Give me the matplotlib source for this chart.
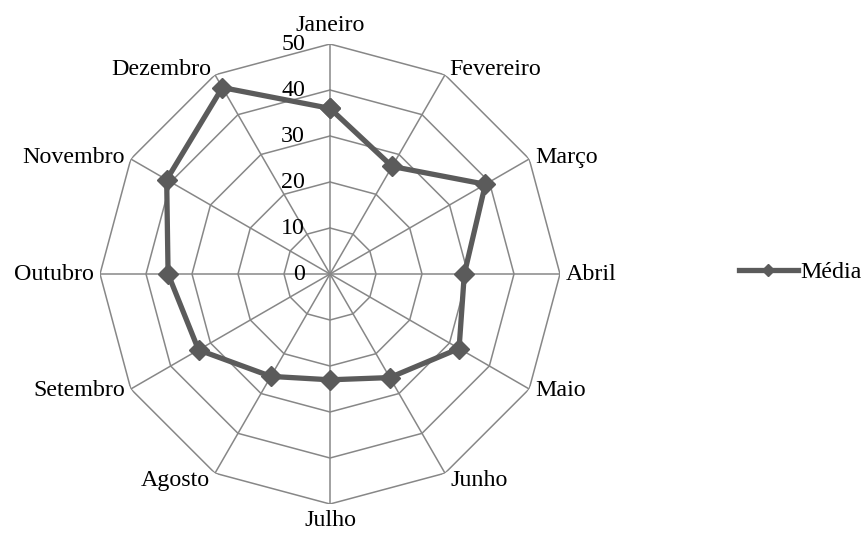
import numpy as np
import matplotlib
matplotlib.use('Agg')
import matplotlib.pyplot as plt

plt.rcParams['font.family'] = ['Liberation Serif', 'DejaVu Serif']

months = ['Janeiro', 'Fevereiro', 'Março', 'Abril', 'Maio', 'Junho',
          'Julho', 'Agosto', 'Setembro', 'Outubro', 'Novembro', 'Dezembro']
media = [36, 27, 39, 29.2, 32.4, 26, 23, 25.7, 33, 35.2, 41, 46.8]
rings = [10, 20, 30, 40, 50]
ring_labels = ['0', '10', '20', '30', '40', '50']

grid_color = '#878787'
line_color = '#5b5b5b'
fs = 17.3

fig = plt.figure(figsize=(8.65, 5.4), dpi=100)
ax = fig.add_axes([100 / 865, 36 / 540, 460 / 865, 460 / 540], projection='polar')
ax.set_theta_zero_location('N')
ax.set_theta_direction(-1)
ax.set_ylim(0, 50)
ax.grid(False)
ax.set_xticks([])
ax.set_yticks([])
ax.spines['polar'].set_visible(False)

n = len(months)
theta = np.arange(n) * 2 * np.pi / n
theta_c = np.append(theta, theta[0])

# polygon grid
for r in rings:
    ax.plot(theta_c, [r] * (n + 1), color=grid_color, lw=1.1, zorder=1)
for t in theta:
    ax.plot([t, t], [0, 50], color=grid_color, lw=1.1, zorder=1)

# radial labels
for i, lab in enumerate(ring_labels):
    ax.annotate(lab, xy=(0, i * 10), xytext=(-25, 0), textcoords='offset pixels',
                ha='right', va='center', fontsize=fs, zorder=3)

# category labels, placed around the outer ring
for t, m in zip(theta, months):
    sx, cy = np.sin(t), np.cos(t)
    if abs(sx) < 0.01:
        ha = 'center'
        va = 'bottom' if cy > 0 else 'top'
        off = (0, 8 if cy > 0 else -6)
    else:
        ha = 'left' if sx > 0 else 'right'
        if cy > 0.8:
            va, off = 'baseline', (np.sign(sx) * 4, 0)
        elif cy < -0.8:
            va, off = 'top', (np.sign(sx) * 5, 3)
        else:
            va, off = 'center', (np.sign(sx) * 6, 2 * cy)
    ax.annotate(m, xy=(t, 50), xytext=off, textcoords='offset pixels',
                ha=ha, va=va, fontsize=fs)

vals = np.append(media, media[0])
ax.plot(theta_c, vals, color=line_color, lw=3.8, marker='D', markersize=10,
        label='Média', zorder=4)

fig.legend(loc='center left', bbox_to_anchor=(739 / 865, 1 - 272 / 540),
           frameon=False, fontsize=fs, handlelength=2.45, handletextpad=0.1,
           borderaxespad=0, borderpad=0, numpoints=1, markerscale=0.65)

fig.savefig('out.png', dpi=100)
